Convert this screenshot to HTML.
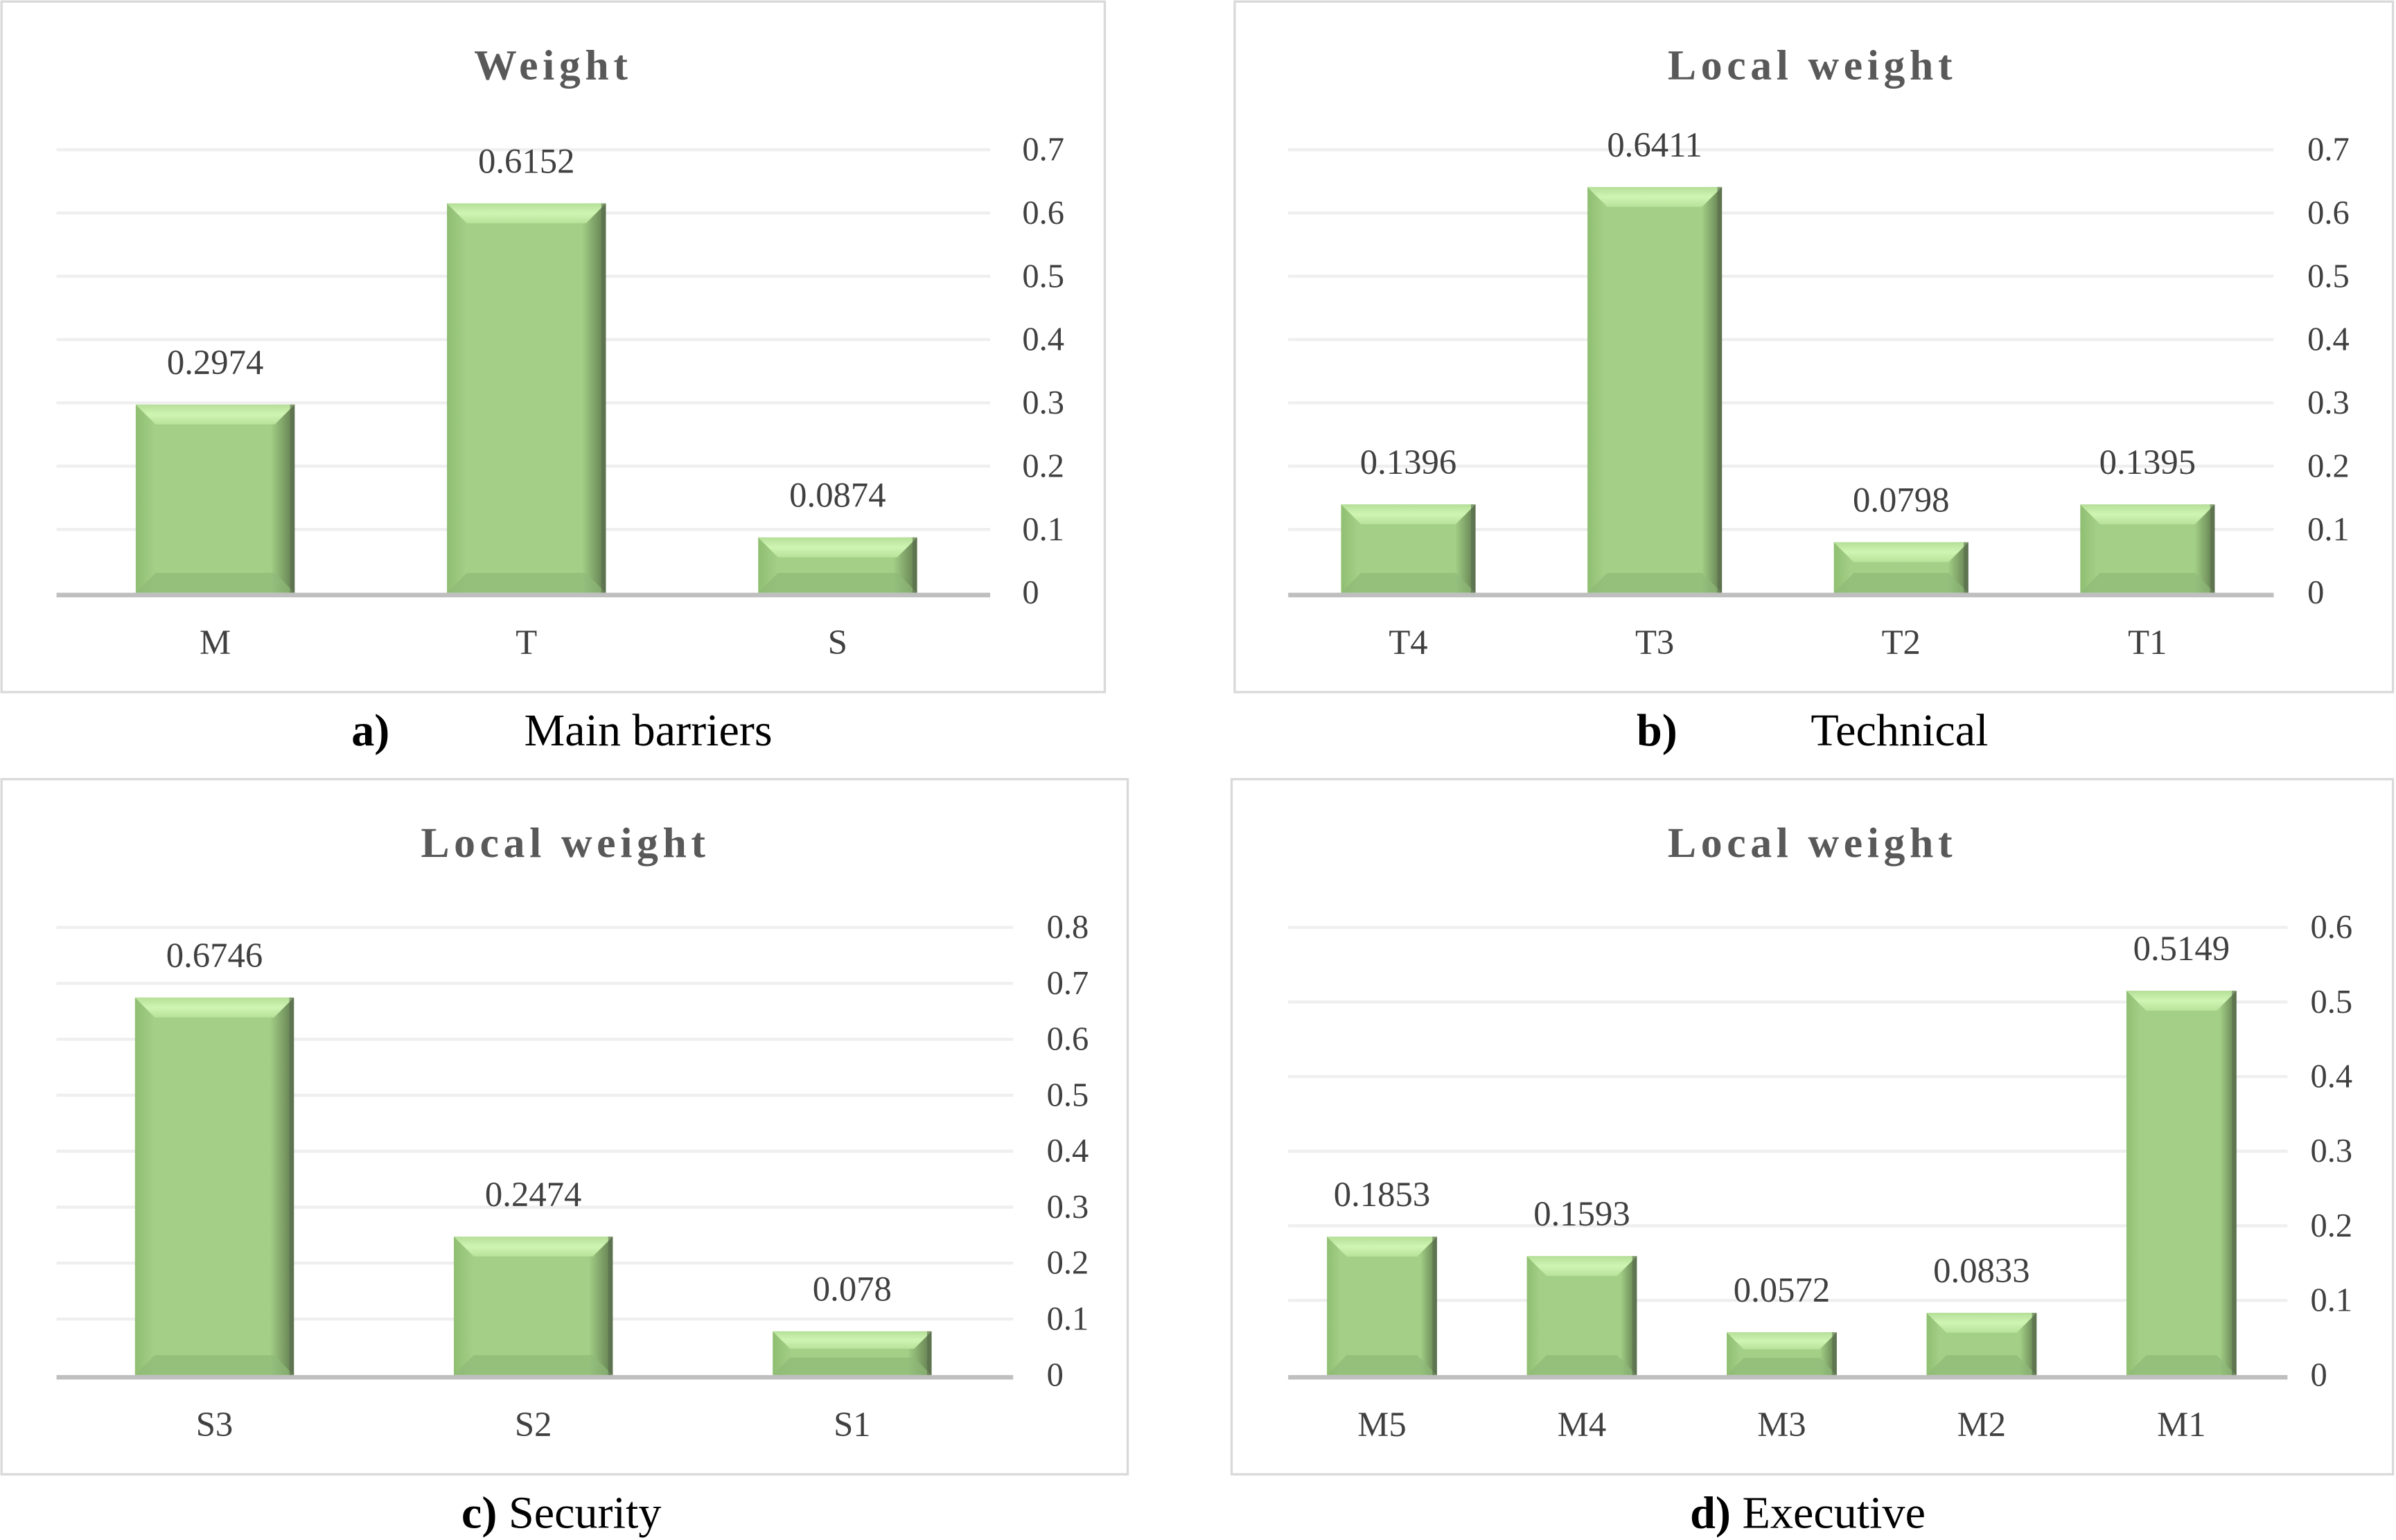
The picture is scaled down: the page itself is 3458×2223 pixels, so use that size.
<!DOCTYPE html>
<html><head><meta charset="utf-8">
<style>html,body{margin:0;padding:0;background:#fff}svg{display:block}</style>
</head><body>
<svg id="fig" width="3458" height="2223" viewBox="0 0 1568 1008" xmlns="http://www.w3.org/2000/svg" font-family="'Liberation Serif', serif">
<defs>
<linearGradient id="gside" x1="0" x2="1" y1="0" y2="0">
<stop offset="0" stop-color="#8fbf72"/><stop offset="0.12" stop-color="#a3cf86"/><stop offset="0.85" stop-color="#a3cf86"/><stop offset="1" stop-color="#5f7a4d"/>
</linearGradient>
<linearGradient id="gtop" x1="0" x2="0" y1="0" y2="1">
<stop offset="0" stop-color="#b5df98"/><stop offset="0.5" stop-color="#cff5b3"/><stop offset="1" stop-color="#b8e29a"/>
</linearGradient>
</defs>
<g id="root"></g>
</svg>
<script>
const NS='http://www.w3.org/2000/svg';
// Panel a
const catsA=['M','T','S'];
const valsA=[0.2974,0.6152,0.0874];
const labelsA=['0.2974','0.6152','0.0874'];
const ticksA=[0,0.1,0.2,0.3,0.4,0.5,0.6,0.7];
// Panel b
const catsB=['T4','T3','T2','T1'];
const valsB=[0.1396,0.6411,0.0798,0.1395];
const labelsB=['0.1396','0.6411','0.0798','0.1395'];
const ticksB=[0,0.1,0.2,0.3,0.4,0.5,0.6,0.7];
// Panel c
const catsC=['S3','S2','S1'];
const valsC=[0.6746,0.2474,0.078];
const labelsC=['0.6746','0.2474','0.078'];
const ticksC=[0,0.1,0.2,0.3,0.4,0.5,0.6,0.7,0.8];
// Panel d
const catsD=['M5','M4','M3','M2','M1'];
const valsD=[0.1853,0.1593,0.0572,0.0833,0.5149];
const labelsD=['0.1853','0.1593','0.0572','0.0833','0.5149'];
const ticksD=[0,0.1,0.2,0.3,0.4,0.5,0.6];

const root=document.getElementById('root');
function el(tag,attrs,parent,text){const e=document.createElementNS(NS,tag);for(const k in attrs)e.setAttribute(k,attrs[k]);if(text!==undefined)e.textContent=text;(parent||root).appendChild(e);return e;}

function panel(cfg,cats,vals,labels,ticks){
  const g=el('g',{});
  
  
  const box=el('rect',{x:cfg.bx,y:cfg.by,width:cfg.bw,height:cfg.bh,fill:'#fff',stroke:'#d9d9d9','stroke-width':1.5},g);
  
  
  const t=el('text',{x:cfg.tx,y:cfg.ty,'text-anchor':'middle','font-size':28,'font-weight':'bold',fill:'#595959','letter-spacing':'3'},g,cfg.title);
  
  
  const maxT=ticks[ticks.length-1];
  const y=v=>cfg.base-(v/maxT)*(cfg.base-cfg.top);
  ticks.forEach(tv=>{
    if(tv>0){const gl=el('line',{x1:cfg.x0,x2:cfg.x1,y1:y(tv),y2:y(tv),stroke:'#efefef','stroke-width':2},g);
      
      }
    const tl=el('text',{x:cfg.tickx,y:y(tv)+7,'font-size':22,fill:'#404040'},g,String(tv));
    
    
  });
  const n=cats.length, step=(cfg.x1-cfg.x0)/n;
  const xc=i=>cfg.x0+step*(i+0.5)+cfg.off;
  cats.forEach((c,i)=>{
    const v=vals[i], x=xc(i)-cfg.bwid/2, yt=y(v), h=cfg.base-yt, w=cfg.bwid;
    const bg=el('g',{},g);
    
    
    el('rect',{x:x,y:yt,width:w,height:h,fill:'url(#gside)'},bg);
    const d=Math.min(13,h/2.5);
    el('polygon',{points:`${x},${yt} ${x+w},${yt} ${x+w-d},${yt+d} ${x+d},${yt+d}`,fill:'url(#gtop)'},bg);
    el('polygon',{points:`${x},${yt+h} ${x+w},${yt+h} ${x+w-d},${yt+h-d} ${x+d},${yt+h-d}`,fill:'#8fb978',opacity:0.7},bg);
    el('rect',{x:x+w-3,y:yt,width:3,height:h,fill:'#5a6b4f',opacity:0.6},bg);
    const vl=el('text',{x:xc(i),y:yt-20,'text-anchor':'middle','font-size':23,fill:'#404040'},g,labels[i]);
    
    
    const cl=el('text',{x:xc(i),y:cfg.base+40,'text-anchor':'middle','font-size':23,fill:'#404040'},g,c);
    
    
  });
  const ax=el('line',{x1:cfg.x0,x2:cfg.x1,y1:cfg.base+1.5,y2:cfg.base+1.5,stroke:'#bfbfbf','stroke-width':3},g);
  
  
  const cap=el('text',{y:cfg.cy,'font-size':30,fill:'#000'},g);
  
  
  el('tspan',{x:cfg.cx,'font-weight':'bold'},cap,cfg.capA);
  const r=el('tspan',{x:cfg.cx2},cap,cfg.capB);
  if(cfg.cx2===undefined) r.removeAttribute('x');
}

panel({name:'panel-a-main-barriers',bx:1,by:1,bw:722,bh:452,tx:362,ty:52,title:'Weight',x0:37,x1:648,base:388,top:98,tickx:669,off:2,bwid:104,cy:488,cx:230,cx2:343,capA:'a)',capB:'Main barriers'},catsA,valsA,labelsA,ticksA);
panel({name:'panel-b-technical',bx:808,by:1,bw:758,bh:452,tx:1186,ty:52,title:'Local weight',x0:843,x1:1488,base:388,top:98,tickx:1510,off:-2,bwid:88,cy:488,cx:1071,cx2:1185,capA:'b)',capB:'Technical'},catsB,valsB,labelsB,ticksB);
panel({name:'panel-c-security',bx:1,by:510,bw:737,bh:455,tx:370,ty:561,title:'Local weight',x0:37,x1:663,base:900,top:607,tickx:685,off:-1,bwid:104,cy:1000,cx:302,cx2:undefined,capA:'c) ',capB:'Security'},catsC,valsC,labelsC,ticksC);
panel({name:'panel-d-executive',bx:806,by:510,bw:760,bh:455,tx:1186,ty:561,title:'Local weight',x0:843,x1:1497,base:900,top:607,tickx:1512,off:-4,bwid:72,cy:1000,cx:1106,cx2:undefined,capA:'d) ',capB:'Executive'},catsD,valsD,labelsD,ticksD);
</script>
</body></html>
